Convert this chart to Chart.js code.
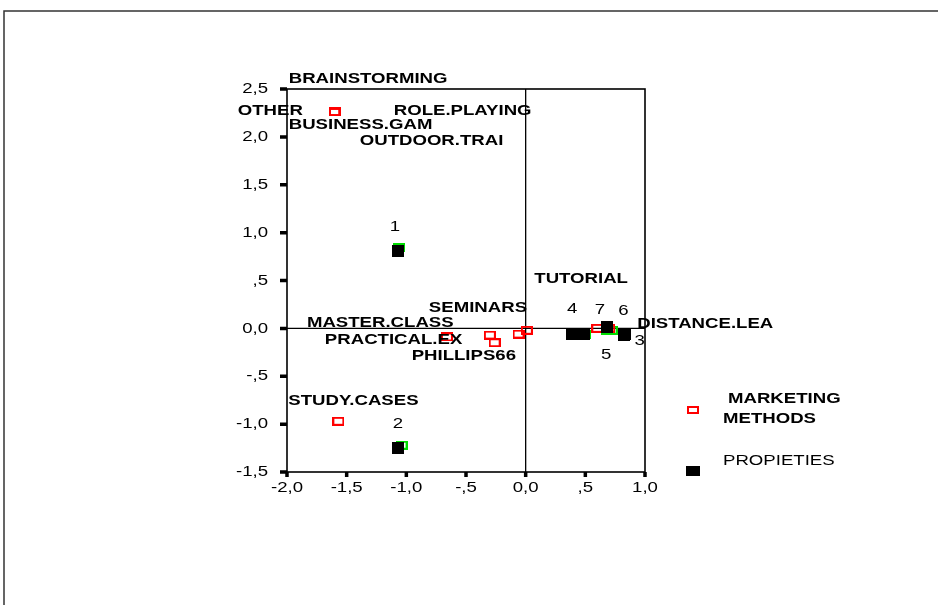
<!DOCTYPE html>
<html>
<head>
<meta charset="utf-8">
<script src="https://cdn.jsdelivr.net/npm/chart.js@4.4.1/dist/chart.umd.min.js"></script>
<style>
  html, body { margin: 0; padding: 0; background: #fff; }
</style>
</head>
<body>
<canvas id="plot" width="938" height="605"></canvas>
<script>
// marketing methods (red hollow squares)
const methodNames = ['BRAINSTORMING', 'OTHER', 'BUSINESS.GAM', 'ROLE.PLAYING', 'OUTDOOR.TRAI',
  'TUTORIAL', 'SEMINARS', 'MASTER.CLASS', 'PRACTICAL.EX', 'PHILLIPS66', '', 'DISTANCE.LEA', 'STUDY.CASES'];
const methodX = [-1.60, -1.60, -1.60, -1.60, -1.60, 0.60, 0.01, -0.66, -0.30, -0.26, -0.06, 0.70, -1.57];
const methodY = [2.26, 2.26, 2.26, 2.26, 2.26, 0.00, -0.02, -0.09, -0.07, -0.15, -0.06, 0.00, -0.97];

// propieties (black filled squares)
const propNames = ['1', '2', '3', '4', '5', '6', '7'];
const propX = [-1.07, -1.07, 0.83, 0.39, 0.49, 0.82, 0.68];
const propY = [0.81, -1.25, -0.06, -0.06, -0.06, -0.07, 0.01];

// unlabelled green squares under the propieties
const greenX = [-1.065, -1.04, 0.50, 0.68, 0.72];
const greenY = [0.845, -1.22, -0.06, -0.02, -0.02];

const xTicks = [-2, -1.5, -1, -0.5, 0, 0.5, 1];
const xTickLabels = ['-2,0', '-1,5', '-1,0', '-,5', '0,0', ',5', '1,0'];
const yTicks = [-1.5, -1, -0.5, 0, 0.5, 1, 1.5, 2, 2.5];
const yTickLabels = ['-1,5', '-1,0', '-,5', '0,0', ',5', '1,0', '1,5', '2,0', '2,5'];

const legendLabels = [['MARKETING', 'METHODS'], ['PROPIETIES']];

// label placement, pixel offsets from each point (left edge / centre of text)
const methodLabelOffset = [[-46, -33], [-97, -1], [-46, 13], [59, -1], [25, 29],
  [-63, -50], [-98, -22], [-140, -14], [-165, 5], [-83, 13], [0, 0], [28, -5], [-50, -20]];
const propLabelOffset = [[-3, -24], [0, -24], [15, 7], [0, -25], [22, 21], [0, -24], [-7, -18]];

const SX = 1.24; // the original text is stretched sideways
const BOLD = 'bold 15px "Liberation Sans", Arial, sans-serif';
const PLAIN = '15px "Liberation Sans", Arial, sans-serif';

function boxMarker(w, h, stroke, fill, lw) {
  const c = document.createElement('canvas');
  c.width = w; c.height = h;
  const g = c.getContext('2d');
  if (fill) { g.fillStyle = fill; g.fillRect(0, 0, w, h); }
  if (stroke) { g.strokeStyle = stroke; g.lineWidth = lw; g.strokeRect(lw / 2, lw / 2, w - lw, h - lw); }
  return c;
}

function text(ctx, str, x, y, align, font) {
  ctx.save();
  ctx.font = font;
  ctx.fillStyle = '#000';
  ctx.textAlign = align;
  ctx.textBaseline = 'middle';
  ctx.translate(x, y);
  ctx.scale(SX, 1);
  ctx.fillText(str, 0, 0);
  ctx.restore();
}

const redBox = boxMarker(12, 9, '#ff0000', null, 2);
const blackBox = boxMarker(12, 12, null, '#000000', 0);
const greenBox = boxMarker(12, 9, '#00dd00', null, 2);

const toPoints = (xs, ys) => xs.map((x, i) => ({ x: x, y: ys[i] }));

const decorations = {
  id: 'decorations',
  beforeDatasetsDraw(chart) {
    const { ctx, chartArea: a, scales: { x, y } } = chart;
    ctx.save();
    // outer frame
    ctx.strokeStyle = '#333';
    ctx.lineWidth = 1.5;
    ctx.strokeRect(4, 11, 960, 620);
    // zero lines
    ctx.strokeStyle = '#000';
    ctx.lineWidth = 1.3;
    ctx.beginPath();
    ctx.moveTo(x.getPixelForValue(0), a.top);
    ctx.lineTo(x.getPixelForValue(0), a.bottom);
    ctx.moveTo(a.left, y.getPixelForValue(0));
    ctx.lineTo(a.right, y.getPixelForValue(0));
    ctx.stroke();
    ctx.restore();
  },
  afterDatasetsDraw(chart) {
    const { ctx, chartArea: a, scales: { x, y } } = chart;
    ctx.save();
    // plot border
    ctx.strokeStyle = '#000';
    ctx.lineWidth = 1.6;
    ctx.strokeRect(a.left, a.top, a.right - a.left, a.bottom - a.top);
    // tick marks and labels
    ctx.lineWidth = 3.5;
    ctx.beginPath();
    yTicks.forEach(v => {
      const py = y.getPixelForValue(v);
      ctx.moveTo(a.left - 7, py);
      ctx.lineTo(a.left, py);
    });
    xTicks.forEach(v => {
      const px = x.getPixelForValue(v);
      ctx.moveTo(px, a.bottom);
      ctx.lineTo(px, a.bottom + 5);
    });
    ctx.stroke();
    ctx.restore();
    yTicks.forEach((v, i) => text(ctx, yTickLabels[i], a.left - 19, y.getPixelForValue(v), 'right', PLAIN));
    xTicks.forEach((v, i) => text(ctx, xTickLabels[i], x.getPixelForValue(v), a.bottom + 16, 'center', PLAIN));

    // point labels
    methodNames.forEach((name, i) => {
      if (!name) return;
      const px = x.getPixelForValue(methodX[i]) + methodLabelOffset[i][0];
      const py = y.getPixelForValue(methodY[i]) + methodLabelOffset[i][1];
      text(ctx, name, px, py, 'left', BOLD);
    });
    propNames.forEach((name, i) => {
      const px = x.getPixelForValue(propX[i]) + propLabelOffset[i][0];
      const py = y.getPixelForValue(propY[i]) + propLabelOffset[i][1];
      text(ctx, name, px, py, 'center', PLAIN);
    });

    // legend
    const lx = a.right + 48;
    ctx.drawImage(boxMarker(12, 8, '#ff0000', null, 2), lx - 6, 406);
    ctx.fillStyle = '#000';
    ctx.fillRect(lx - 7, 466, 14, 10);
    text(ctx, legendLabels[0][0], lx + 35, 399, 'left', BOLD);
    text(ctx, legendLabels[0][1], lx + 30, 419, 'left', BOLD);
    text(ctx, legendLabels[1][0], lx + 30, 461, 'left', PLAIN);
  }
};

new Chart(document.getElementById('plot'), {
  type: 'scatter',
  data: {
    datasets: [
      { label: 'PROPIETIES', data: toPoints(propX, propY), pointStyle: blackBox, pointRadius: 6, order: 0 },
      { label: 'MARKETING METHODS', data: toPoints(methodX, methodY), pointStyle: redBox, pointRadius: 6, order: 1 },
      { label: 'centroids', data: toPoints(greenX, greenY), pointStyle: greenBox, pointRadius: 6, order: 2 }
    ]
  },
  options: {
    responsive: false,
    animation: false,
    events: [],
    layout: { padding: { left: 287, top: 89, right: 293, bottom: 133 } },
    scales: {
      x: { type: 'linear', min: -2, max: 1, display: false },
      y: { type: 'linear', min: -1.5, max: 2.5, display: false }
    },
    plugins: {
      legend: { display: false },
      tooltip: { enabled: false }
    }
  },
  plugins: [decorations]
});
</script>
</body>
</html>
